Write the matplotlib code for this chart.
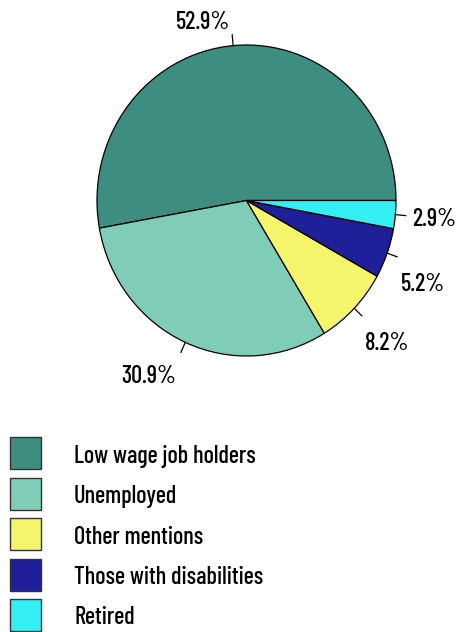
import numpy as np
import matplotlib
matplotlib.use("Agg")
import matplotlib.pyplot as plt
from matplotlib.patches import Rectangle
from matplotlib import font_manager

categories = ["Low wage job holders", "Unemployed", "Other mentions",
              "Those with disabilities", "Retired"]
shares = [52.9, 30.9, 8.2, 5.2, 2.9]
colors = ["#3d8e80", "#7fcdb7", "#f5f56c", "#1f1f99", "#33eff3"]

names = {f.name for f in font_manager.fontManager.ttflist}
candidates = ["Barlow Condensed", "Roboto Condensed", "Archivo Narrow",
              "DejaVu Sans"]
family = next(n for n in candidates if n in names)
plt.rcParams["font.family"] = [family, "DejaVu Sans"]
plt.rcParams["font.weight"] = 500

W, H = 458, 632
FS = 17.5
fig = plt.figure(figsize=(W / 100, H / 100), dpi=100)

# Pie area (slightly taller than wide)
x0, x1, y0, y1 = 97, 396, 45, 356
ax = fig.add_axes([x0 / W, 1 - y1 / H, (x1 - x0) / W, (y1 - y0) / H])
wedges, _ = ax.pie(shares, colors=colors, startangle=0, counterclock=True,
                   radius=1.0, center=(0, 0),
                   wedgeprops=dict(edgecolor="black", linewidth=0.9))
ax.set_aspect("auto")
ax.set_xlim(-1, 1)
ax.set_ylim(-1, 1)
ax.axis("off")

# Percentage labels with short leader lines at each slice's mid-angle
for w, val in zip(wedges, shares):
    mid = np.deg2rad((w.theta1 + w.theta2) / 2)
    c, s = np.cos(mid), np.sin(mid)
    ex, ey = 1.07 * c, 1.07 * s
    ax.plot([c, ex], [s, ey], color="black", lw=0.9, clip_on=False)
    if s > 0.9:
        off, ha, va = (-1.5, 0.5), "right", "bottom"
    elif abs(s) < 0.3:
        off, ha, va = (4.5, -3), "left", "center"
    elif c > 0:
        off, ha, va = (2.5, -11.5), "left", "top"
    else:
        off, ha, va = (-3.5, -9.5), "right", "top"
    ax.annotate(f"{val}%", xy=(ex, ey), xytext=off, textcoords="offset points",
                ha=ha, va=va, fontsize=FS, annotation_clip=False)

# Legend
lax = fig.add_axes([0, 0, 1, 1])
lax.set_xlim(0, W)
lax.set_ylim(H, 0)
lax.axis("off")
for i, (lab, col) in enumerate(zip(categories, colors)):
    top = 437 + i * 40.5
    lax.add_patch(Rectangle((10, top), 31, 32, facecolor=col,
                            edgecolor="#333333", linewidth=1.0))
    lax.text(74, top + 19, lab, ha="left", va="center", fontsize=FS)

fig.savefig("out.png", dpi=100)
